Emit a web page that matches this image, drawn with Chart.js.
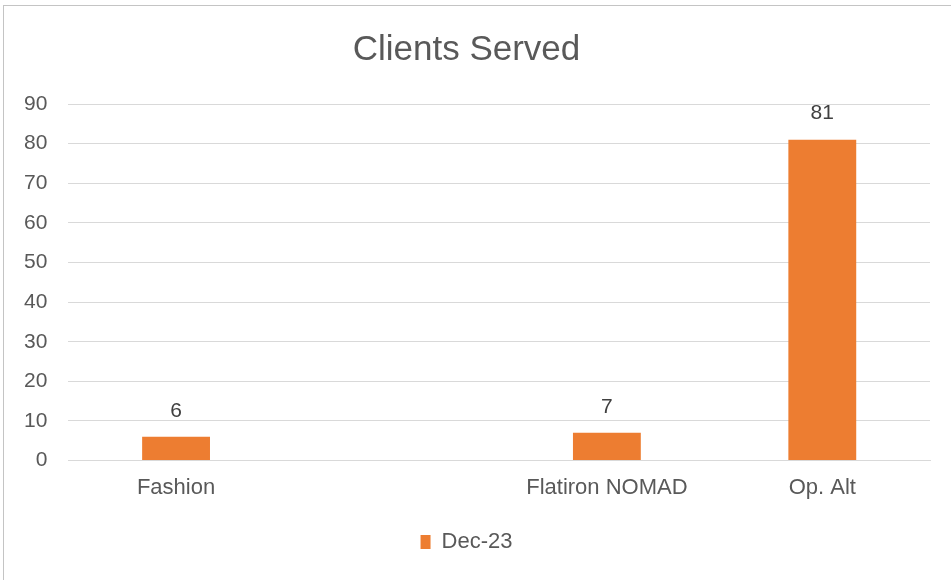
<!DOCTYPE html>
<html>
<head>
<meta charset="utf-8">
<script src="https://cdn.jsdelivr.net/npm/chart.js@4"></script>
<style>
  html, body { margin: 0; padding: 0; background: #fff; }
  #wrap { position: relative; width: 951px; height: 580px; }
  #frame { position: absolute; left: 3px; top: 5px; width: 960px; height: 600px;
           border-left: 1px solid #c4c4c4; border-top: 1px solid #c4c4c4; pointer-events: none; }
</style>
</head>
<body>
<div id="wrap">
  <canvas id="chart" width="951" height="580"></canvas>
  <div id="frame"></div>
</div>
<script>
// datos del grafico
const categorias = ['Fashion', '', 'Flatiron NOMAD', 'Op. Alt'];
const clientes = [6, null, 7, 81];
const serie = 'Dec-23';
const titulo = 'Clients Served';

const gris = '#595959';
const naranja = '#ED7D31';
const fuente = "'Liberation Sans', Arial, sans-serif";

// etiquetas de valor sobre las barras
const etiquetas = {
    id: 'etiquetas',
    afterDatasetsDraw(chart) {
        const ctx = chart.ctx;
        const meta = chart.getDatasetMeta(0);
        ctx.save();
        ctx.font = '21px ' + fuente;
        ctx.fillStyle = '#404040';
        ctx.textAlign = 'center';
        ctx.textBaseline = 'middle';
        meta.data.forEach((bar, i) => {
            const v = chart.data.datasets[0].data[i];
            if (v === null) return;
            ctx.fillText(v, bar.x, bar.y - 26);
        });
        ctx.restore();
    }
};

new Chart(document.getElementById('chart'), {
    type: 'bar',
    data: {
        labels: categorias,
        datasets: [{
            label: serie,
            data: clientes,
            backgroundColor: naranja,
            categoryPercentage: 1,
            barPercentage: 0.315
        }]
    },
    options: {
        responsive: false,
        animation: false,
        layout: { padding: { left: 3, right: 21, top: 20, bottom: 17 } },
        plugins: {
            title: {
                display: true,
                text: titulo,
                color: gris,
                font: { family: fuente, size: 35, weight: 'normal' },
                padding: { top: 9, bottom: 33 }
            },
            legend: {
                position: 'bottom',
                labels: {
                    color: gris,
                    font: { family: fuente, size: 22 },
                    boxWidth: 10,
                    boxHeight: 14,
                    padding: 16
                }
            },
            tooltip: { enabled: false }
        },
        scales: {
            x: {
                grid: { display: false, drawTicks: false },
                border: { color: '#d9d9d9' },
                ticks: { color: gris, font: { family: fuente, size: 22 }, padding: 14, maxRotation: 0 }
            },
            y: {
                min: 0,
                max: 90,
                grid: { color: '#d9d9d9', drawTicks: false },
                border: { display: false },
                ticks: { stepSize: 10, color: gris, font: { family: fuente, size: 21 }, padding: 21 }
            }
        }
    },
    plugins: [etiquetas]
});
</script>
</body>
</html>
